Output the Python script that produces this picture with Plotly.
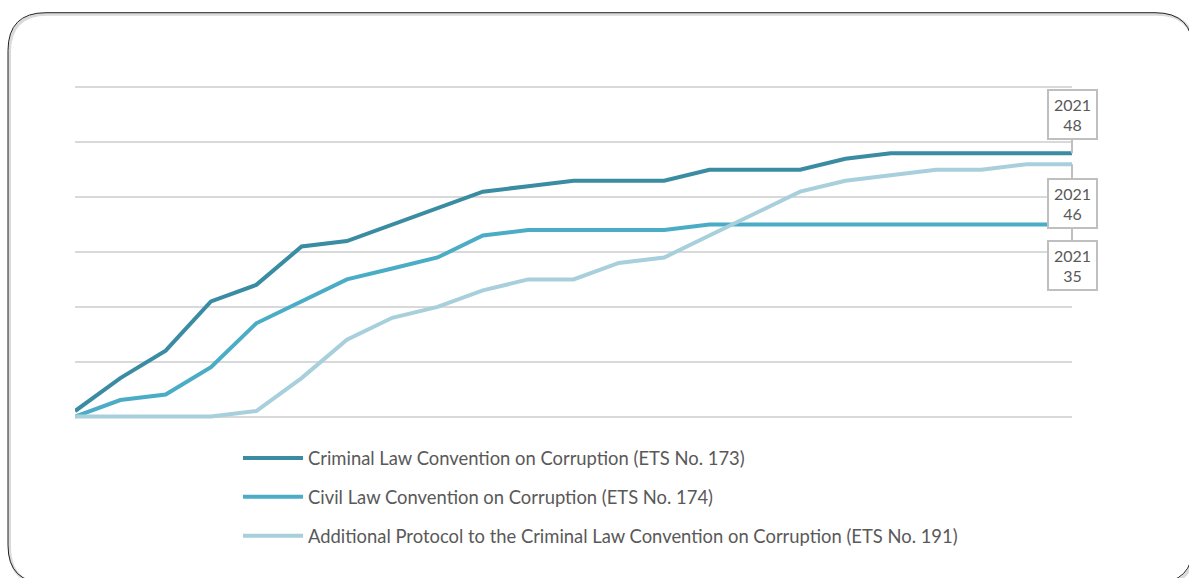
import plotly.graph_objects as go

years = list(range(1999, 2022))
criminal = [1, 7, 12, 21, 24, 31, 32, 35, 38, 41, 42, 43, 43, 43, 45, 45, 45, 47, 48, 48, 48, 48, 48]
civil = [0, 3, 4, 9, 17, 21, 25, 27, 29, 33, 34, 34, 34, 34, 35, 35, 35, 35, 35, 35, 35, 35, 35]
protocol = [0, 0, 0, 0, 1, 7, 14, 18, 20, 23, 25, 25, 28, 29, 33, 37, 41, 43, 44, 45, 45, 46, 46]
names = [
    "Criminal Law Convention on Corruption (ETS No. 173)",
    "Civil Law Convention on Corruption (ETS No. 174)",
    "Additional Protocol to the Criminal Law Convention on Corruption (ETS No. 191)",
]
colors = ["#3A8CA3", "#4BACC6", "#A8CFDC"]
series = [criminal, civil, protocol]

W, H = 1189, 578
L, R, T, B = 75, 117, 81.5, 155.5
pw, ph = W - L - R, H - T - B

def px(x):
    return (x - L) / pw

def py(y):
    return (H - B - y) / ph

fig = go.Figure()
for i, (name, vals, col) in enumerate(zip(names, series, colors)):
    fig.add_trace(go.Scatter(
        x=years, y=vals, name=name, mode="lines",
        line=dict(color=col, width=4),
        legendgroup=f"g{i}",
        hoverinfo="skip",
    ))

# callouts for last values
offsets = [-38.5, 40.5, 39.5]
for vals, ay in zip(series, offsets):
    fig.add_annotation(
        x=years[-1], y=vals[-1], xref="x", yref="y",
        text=f"{years[-1]}<br>{vals[-1]}",
        showarrow=True, arrowhead=0, arrowwidth=2, arrowcolor="#BFBFBF",
        ax=0, ay=ay, standoff=0,
        bgcolor="white", bordercolor="#BFBFBF", borderwidth=2,
        width=47, height=47, borderpad=0,
        font=dict(family="Lato", size=16, color="#595959"),
    )

# rounded frame
x0, y0, x1, y1, r = 8, 12, 1193, 584, 38
def frame_path(dx=0, dy=0):
    a0, b0, a1, b1 = x0 + dx, y0 + dy, x1 + dx, y1 + dy
    pts = [
        f"M {px(a0 + r)} {py(b0)}",
        f"L {px(a1 - r)} {py(b0)}",
        f"Q {px(a1)} {py(b0)} {px(a1)} {py(b0 + r)}",
        f"L {px(a1)} {py(b1 - r)}",
        f"Q {px(a1)} {py(b1)} {px(a1 - r)} {py(b1)}",
        f"L {px(a0 + r)} {py(b1)}",
        f"Q {px(a0)} {py(b1)} {px(a0)} {py(b1 - r)}",
        f"L {px(a0)} {py(b0 + r)}",
        f"Q {px(a0)} {py(b0)} {px(a0 + r)} {py(b0)} Z",
    ]
    return " ".join(pts)

fig.add_shape(type="path", xref="paper", yref="paper", path=frame_path(1.5, 1.5),
              line=dict(color="#DADADA", width=3), layer="below")
fig.add_shape(type="path", xref="paper", yref="paper", path=frame_path(),
              line=dict(color="#222222", width=1), layer="below")

fig.update_layout(
    width=W, height=H,
    margin=dict(l=L, r=R, t=T, b=B, pad=0),
    paper_bgcolor="white", plot_bgcolor="white",
    font=dict(family="Lato", color="#595959"),
    showlegend=True,
    legend=dict(
        x=px(238), y=py(440), xanchor="left", yanchor="top",
        font=dict(family="Lato", size=18.4, color="#595959"),
        bgcolor="rgba(0,0,0,0)", tracegroupgap=12,
        traceorder="grouped", itemwidth=60,
    ),
    xaxis=dict(range=[1999, 2021], showgrid=False, zeroline=False,
               showticklabels=False, showline=False, ticks=""),
    yaxis=dict(range=[-1, 61], tickvals=[0, 10, 20, 30, 40, 50, 60],
               showgrid=True, gridcolor="#D9D9D9", gridwidth=2,
               zeroline=False, showticklabels=False, showline=False, ticks=""),
)

fig.write_html("out.html")
